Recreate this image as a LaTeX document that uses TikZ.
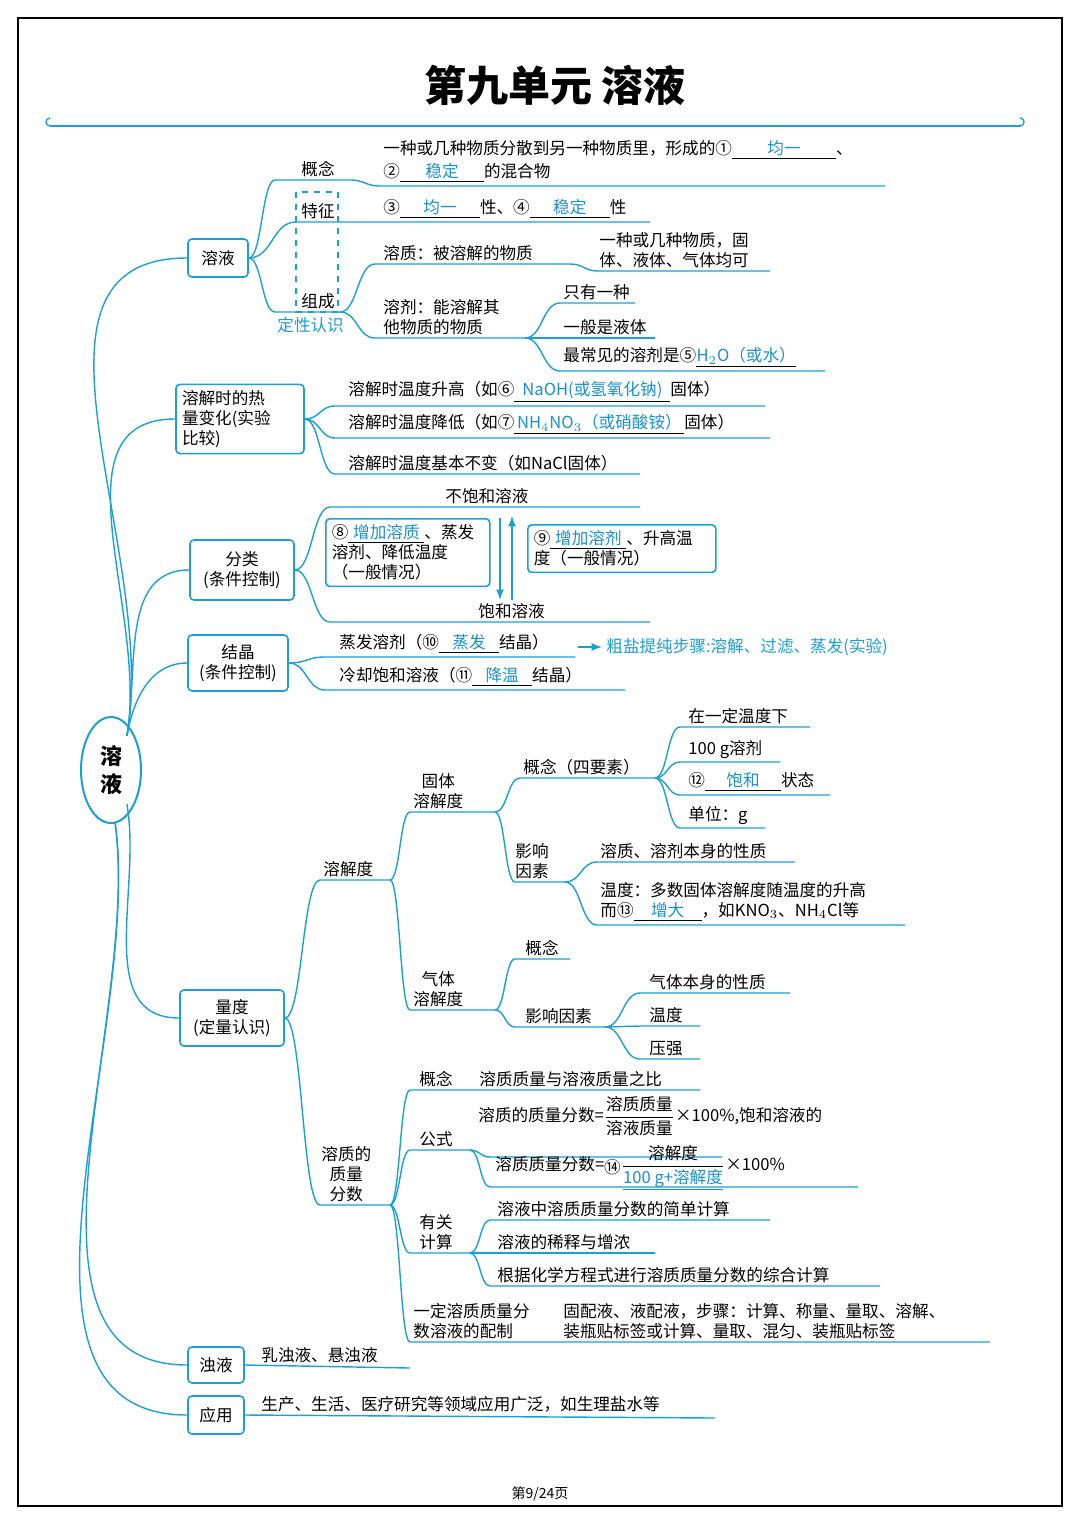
\documentclass[tikz,border=0pt]{standalone}
\usepackage{fontspec}
\usepackage{amsmath}
\usetikzlibrary{shapes.geometric,calc}
\setmainfont{Noto Sans CJK SC}
\definecolor{cy}{HTML}{1A9FD8}
\definecolor{ans}{HTML}{1A8FD0}
\newcommand\ans[2]{\underline{\makebox[#1]{\color{ans}#2}}}
\begin{document}
\begin{tikzpicture}[x=0.5pt,y=-0.5pt,
  ln/.style={cy,line width=0.7pt},
  br/.style={to path={let \p1=(\tikztostart),\p2=(\tikztotarget) in .. controls ({0.5*\x1+0.5*\x2},\y1) and ({0.5*\x1+0.5*\x2},\y2) .. (\tikztotarget)}},
  bx/.style={draw=cy,line width=0.8pt,rounded corners=2pt,align=center,inner sep=3pt},
  t/.style={anchor=south west,inner sep=1.5pt,font=\fontsize{8.3}{10}\selectfont},
  tl/.style={t,align=left},
  f/.style={font=\fontsize{8.3}{10}\selectfont}]
\useasboundingbox (0,0) rectangle (1080,1528);
\draw[line width=1.2pt] (18,18) rectangle (1062,1506);
\node[font=\fontsize{21}{24}\selectfont\bfseries] (title) at (555,85) {第九单元\ 溶液};
\draw[ln] (50,126) -- (1020,126);
\draw[ln] (50,126) arc(90:270:4) ; \draw[ln] (1020,126) arc(90:-90:4);
\node[font=\fontsize{7}{8}\selectfont] (pg) at (540,1494) {第9/24页};

% root
\node[draw=cy,line width=1pt,ellipse,minimum width=30pt,minimum height=53pt,inner sep=0,align=center,font=\fontsize{11}{14}\selectfont\bfseries] (root) at (111,770) {溶\\液};

% boxes
\node[bx,f,minimum width=30pt,minimum height=19pt] (b1) at (218,258) {溶液};
\node[bx,f,align=left,text width=58pt] (b2) at (240,419) {溶解时的热\\量变化(实验\\比较)};
\node[bx,f,minimum width=52pt,minimum height=30pt] (b3) at (242,570) {分类\\(条件控制)};
\node[bx,f,minimum width=50pt,minimum height=28pt] (b4) at (238,663) {结晶\\(条件控制)};
\node[bx,f,minimum width=52pt,minimum height=28pt] (b5) at (232,1018) {量度\\(定量认识)};
\node[bx,f,minimum width=28pt,minimum height=18pt] (b6) at (216,1365) {浊液};
\node[bx,f,minimum width=28pt,minimum height=19pt] (b7) at (216,1415) {应用};
\foreach \b in {b1,b2,b3,b4}
  \draw[ln] (root.north east) ++(-6,4) to[out=80,in=180] (\b.west);
\draw[ln] (root.south east) ++(-6,-4) to[out=-80,in=180] (b5.west);
\foreach \b in {b6,b7}
  \draw[ln] (root.south) ++(4,-2) to[out=-82,in=180,looseness=0.9] (\b.west);

% ---- 溶液
\coordinate (g1) at (275,180); \coordinate (g2) at (296,222); \coordinate (g3) at (275,312);
\draw[ln] (b1.east) to[br] (g1) -- (350,180) to[br] (380,186) -- (885,186);
\draw[ln] (b1.east) to[br] (g2) -- (650,222);
\draw[ln] (b1.east) to[br] (g3) -- (340,312);
\node[t] at (298,180) {概念};
\node[t] at (298,222) {特征};
\node[t] at (298,312) {组成};
\draw[cy,dashed,line width=0.6pt] (296,192) rectangle (338,312);
\node[t,text=cy] at (274,336) {定性认识};
\node[t] at (380,163) {一种或几种物质分散到另一种物质里，形成的①\ans{52pt}{均一}、};
\node[t] at (380,186) {②\ans{42pt}{稳定}的混合物};
\node[t] at (380,222) {③\ans{40pt}{均一}性、④\ans{40pt}{稳定}性};
\draw[ln] (340,312) to[br] (375,264) -- (570,264) to[br] (598,271) -- (770,271);
\draw[ln] (340,312) to[br] (375,338) -- (525,338);
\node[t] at (380,264) {溶质：被溶解的物质};
\node[tl] at (596,271) {一种或几种物质，固\\体、液体、气体均可};
\node[tl] at (380,338) {溶剂：能溶解其\\他物质的物质};
\draw[ln] (525,338) to[br] (560,303) -- (635,303);
\draw[ln] (525,338) -- (655,338);
\draw[ln] (525,338) to[br] (560,371) -- (825,371);
\node[t] at (560,303) {只有一种};
\node[t] at (560,338) {一般是液体};
\node[t] at (560,371) {最常见的溶剂是⑤\ans{50pt}{H$_2$O（或水）}};

% ---- 热量
\draw[ln] (b2.east) to[br] (335,406) -- (765,406);
\draw[ln] (b2.east) to[br] (335,438) -- (770,438);
\draw[ln] (b2.east) to[br] (335,474) -- (640,474);
\node[t] at (345,406) {溶解时温度升高（如⑥\ans{78pt}{NaOH(或氢氧化钠)}固体）};
\node[t] at (345,438) {溶解时温度降低（如⑦\ans{85pt}{NH$_4$NO$_3$（或硝酸铵）}固体）};
\node[t] at (345,474) {溶解时温度基本不变（如NaCl固体）};

% ---- 分类
\draw[ln] (b3.east) to[br] (330,507) -- (640,507);
\draw[ln] (b3.east) to[br] (330,622) -- (650,622);
\node[t] at (442,507) {不饱和溶液};
\node[t] at (475,622) {饱和溶液};
\node[bx,f,align=left,text width=76pt,anchor=north west] (c8) at (325,518) {⑧\ans{38pt}{增加溶质}、蒸发\\溶剂、降低温度\\（一般情况）};
\node[bx,f,align=left,text width=88pt,anchor=north west] (c9) at (527,524) {⑨\ans{38pt}{增加溶剂}、升高温\\度（一般情况）};
\draw[cy,-latex,line width=0.8pt] (500,518) -- (500,600);
\draw[cy,-latex,line width=0.8pt] (512,600) -- (512,516);

% ---- 结晶
\draw[ln] (b4.east) to[br] (325,657) -- (575,657);
\draw[ln] (b4.east) to[br] (325,690) -- (625,690);
\node[t] at (336,657) {蒸发溶剂（⑩\ans{30pt}{蒸发}结晶）};
\node[t] at (336,690) {冷却饱和溶液（⑪\ans{30pt}{降温}结晶）};
\draw[cy,-latex,line width=0.8pt] (578,647) -- (602,647);
\node[t,text=cy,anchor=west] at (603,647) {粗盐提纯步骤:溶解、过滤、蒸发(实验)};

% ---- 量度
\coordinate (sd) at (390,880); \coordinate (zl) at (390,1205);
\draw[ln] (b5.east) to[br] (320,880) -- (sd);
\draw[ln] (b5.east) to[br] (320,1205) -- (zl);
\node[t] at (320,880) {溶解度};
\node[t,align=center] at (318,1205) {溶质的\\质量\\分数};
\coordinate (gt) at (495,812); \coordinate (qt) at (495,1010);
\draw[ln] (sd) to[br] (410,812) -- (gt);
\draw[ln] (sd) to[br] (410,1010) -- (qt);
\node[t,align=center] at (410,812) {固体\\溶解度};
\node[t,align=center] at (410,1010) {气体\\溶解度};
\draw[ln] (gt) to[br] (520,778) -- (655,778);
\draw[ln] (gt) to[br] (515,882) -- (565,882);
\node[t] at (520,778) {概念（四要素）};
\node[t,align=center] at (512,882) {影响\\因素};
\foreach \yy/\xx in {727/810,762/780,795/830,828/765}
  \draw[ln] (655,778) to[br] (680,\yy) -- (\xx,\yy);
\node[t] at (685,727) {在一定温度下};
\node[t] at (685,762) {100 g溶剂};
\node[t] at (685,795) {⑫\ans{38pt}{饱和}状态};
\node[t] at (685,828) {单位：g};
\draw[ln] (565,882) to[br] (597,862) -- (795,862);
\draw[ln] (565,882) to[br] (597,925) -- (905,925);
\node[t] at (597,862) {溶质、溶剂本身的性质};
\node[tl] at (597,925) {温度：多数固体溶解度随温度的升高\\而⑬\ans{34pt}{增大}，如KNO$_3$、NH$_4$Cl等};
\draw[ln] (qt) to[br] (515,959) -- (570,959);
\draw[ln] (qt) to[br] (515,1027) -- (605,1027);
\node[t] at (522,959) {概念};
\node[t] at (522,1027) {影响因素};
\foreach \yy/\xx in {993/790,1026/700,1059/700}
  \draw[ln] (605,1027) to[br] (640,\yy) -- (\xx,\yy);
\node[t] at (646,993) {气体本身的性质};
\node[t] at (646,1026) {温度};
\node[t] at (646,1059) {压强};
% 质量分数
\coordinate (gs) at (470,1150); \coordinate (jc) at (470,1253);
\draw[ln] (zl) to[br] (410,1090) -- (700,1090);
\draw[ln] (zl) to[br] (410,1150) -- (gs);
\draw[ln] (zl) to[br] (410,1253) -- (jc);
\draw[ln] (zl) to[br] (410,1342) -- (990,1342);
\node[t] at (416,1090) {概念};
\node[t] at (476,1090) {溶质质量与溶液质量之比};
\node[t] at (416,1150) {公式};
\node[t,align=center] at (416,1253) {有关\\计算};
\node[tl] at (410,1342) {一定溶质质量分\\数溶液的配制};
\node[tl] at (560,1342) {固配液、液配液，步骤：计算、称量、量取、溶解、\\装瓶贴标签或计算、量取、混匀、装瓶贴标签};
\draw[ln] (gs) to[br] (490,1157) -- (722,1157);
\draw[ln] (gs) to[br] (490,1187) -- (858,1187);
\node[f,anchor=west,inner sep=0] at (478,1116) {溶质的质量分数=$\dfrac{\mbox{溶质质量}}{\mbox{溶液质量}}$×100\%,饱和溶液的};
\node[f,anchor=west,inner sep=0] at (495,1168) {溶质质量分数=\raisebox{-0.3ex}{⑭}$\dfrac{\mbox{溶解度}}{\mbox{\color{ans}\underline{100 g+溶解度}}}$×100\%};
\foreach \yy/\xx in {1220/770,1253/655,1286/880}
  \draw[ln] (jc) to[br] (490,\yy) -- (\xx,\yy);
\node[t] at (494,1220) {溶液中溶质质量分数的简单计算};
\node[t] at (494,1253) {溶液的稀释与增浓};
\node[t] at (494,1286) {根据化学方程式进行溶质质量分数的综合计算};

% 浊液 应用
\draw[ln] (b6.east) -- (410,1368);
\node[t] at (258,1366) {乳浊液、悬浊液};
\draw[ln] (b7.east) -- (715,1418);
\node[t] at (258,1416) {生产、生活、医疗研究等领域应用广泛，如生理盐水等};
\end{tikzpicture}
\end{document}
